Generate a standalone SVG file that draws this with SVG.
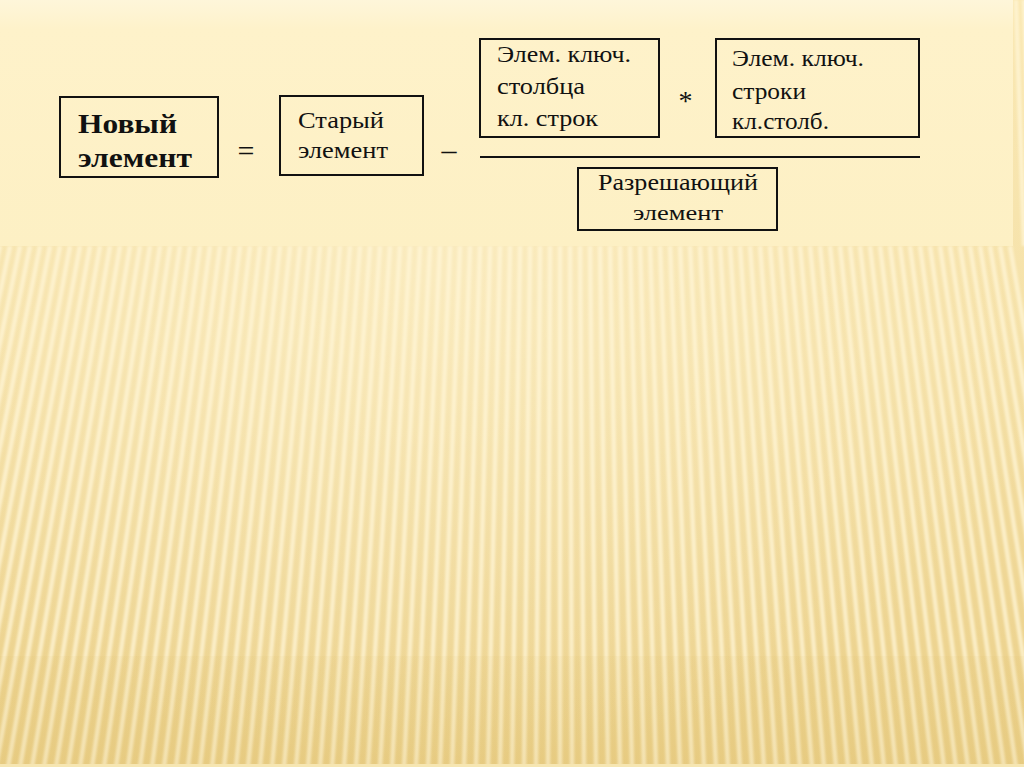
<svg xmlns="http://www.w3.org/2000/svg" width="1024" height="767" viewBox="0 0 1024 767">
<defs>
<style>
.box{fill:none;stroke:#111;stroke-width:2}
.t{font-family:"Liberation Serif","Times New Roman",serif;fill:#111}
.b{font-weight:bold;font-size:28px}
.m{font-size:24px}
.s{font-size:23px}
.x{font-size:21px}
.op{font-family:"Liberation Serif","Times New Roman",serif;fill:#111}
</style>
<linearGradient id="bg" x1="0" y1="0" x2="0" y2="1">
<stop offset="0" stop-color="#FAE8B3"/>
<stop offset="0.45" stop-color="#F5E0A6"/>
<stop offset="1" stop-color="#EACF88"/>
</linearGradient>
<radialGradient id="hl" cx="0.42" cy="0.35" r="0.65">
<stop offset="0" stop-color="#FFF6D8" stop-opacity="0.45"/>
<stop offset="1" stop-color="#FFF6D8" stop-opacity="0"/>
</radialGradient>
<linearGradient id="low" x1="0" y1="0" x2="0" y2="1">
<stop offset="0" stop-color="#D8B760" stop-opacity="0.08"/>
<stop offset="1" stop-color="#D8B760" stop-opacity="0.18"/>
</linearGradient>
<linearGradient id="panel" x1="0" y1="0" x2="0" y2="1">
<stop offset="0" stop-color="#FEF6DA"/>
<stop offset="0.12" stop-color="#FEF2CA"/>
<stop offset="1" stop-color="#FDF0C4"/>
</linearGradient>
<filter id="soft" x="-5%" y="-5%" width="110%" height="110%"><feGaussianBlur stdDeviation="1.2"/></filter>
</defs>

<g id="background">
<rect x="0" y="0" width="1024" height="767" fill="url(#bg)"/>
<rect x="0" y="0" width="1024" height="767" fill="url(#hl)"/>
<path filter="url(#soft)" stroke="#FFF6D6" stroke-opacity="0.75" stroke-width="4.5" fill="none" d="M0 246L-112 767M10 246L-100 767M20 246L-88 767M30 246L-76 767M40 246L-64 767M50 246L-52 767M60 246L-40 767M70 246L-28 767M80 246L-16 767M90 246L-4 767M100 246L8 767M110 246L20 767M120 246L32 767M130 246L44 767M140 246L56 767M150 246L68 767M160 246L80 767M170 246L92 767M180 246L104 767M190 246L116 767M200 246L128 767M210 246L140 767M220 246L152 767M230 246L164 767M240 246L176 767M250 246L188 767M260 246L200 767M270 246L212 767M280 246L224 767M290 246L236 767M300 246L248 767M310 246L260 767M320 246L272 767M330 246L284 767M340 246L296 767M350 246L308 767M360 246L320 767M370 246L332 767M380 246L344 767M390 246L356 767M400 246L368 767M410 246L380 767M420 246L392 767M430 246L404 767M440 246L416 767M450 246L428 767M460 246L440 767M470 246L452 767M480 246L464 767M490 246L476 767M500 246L488 767M510 246L500 767M520 246L512 767M530 246L524 767M540 246L536 767M550 246L548 767M560 246L560 767M570 246L572 767M580 246L584 767M590 246L596 767M600 246L608 767M610 246L620 767M620 246L632 767M630 246L644 767M640 246L656 767M650 246L668 767M660 246L680 767M670 246L692 767M680 246L704 767M690 246L716 767M700 246L728 767M710 246L740 767M720 246L752 767M730 246L764 767M740 246L776 767M750 246L788 767M760 246L800 767M770 246L812 767M780 246L824 767M790 246L836 767M800 246L848 767M810 246L860 767M820 246L872 767M830 246L884 767M840 246L896 767M850 246L908 767M860 246L920 767M870 246L932 767M880 246L944 767M890 246L956 767M900 246L968 767M910 246L980 767M920 246L992 767M930 246L1004 767M940 246L1016 767M950 246L1028 767M960 246L1040 767M970 246L1052 767M980 246L1064 767M990 246L1076 767M1000 246L1088 767M1010 246L1100 767M1016 0L1024 246M1024 0L1032 246"/>
<rect x="0" y="656" width="1024" height="111" fill="url(#low)"/>
<rect x="0" y="764" width="1024" height="3" fill="#F6E6B2"/>
<rect x="0" y="0" width="1013" height="246" fill="url(#panel)"/>
</g>

<g id="node-new">
<rect class="box" x="60" y="97" width="158" height="80"/>
<text class="t b" x="78" y="133" textLength="99" lengthAdjust="spacingAndGlyphs">Новый</text>
<text class="t b" x="78" y="167" textLength="114" lengthAdjust="spacingAndGlyphs">элемент</text>
</g>

<g id="node-old">
<rect class="box" x="280" y="96" width="143" height="79"/>
<text class="t m" x="298" y="127.5" textLength="86" lengthAdjust="spacingAndGlyphs">Старый</text>
<text class="t m" x="298" y="158" textLength="90" lengthAdjust="spacingAndGlyphs">элемент</text>
</g>

<g id="node-col">
<rect class="box" x="480" y="39" width="179" height="98"/>
<text class="t s" x="497" y="61.5" textLength="134" lengthAdjust="spacingAndGlyphs">Элем. ключ.</text>
<text class="t s" x="497" y="93.5" textLength="88" lengthAdjust="spacingAndGlyphs">столбца</text>
<text class="t s" x="497" y="125.5" textLength="101" lengthAdjust="spacingAndGlyphs">кл. строк</text>
</g>

<g id="node-row">
<rect class="box" x="716" y="39" width="203" height="98"/>
<text class="t s" x="732" y="65.5" textLength="132" lengthAdjust="spacingAndGlyphs">Элем. ключ.</text>
<text class="t s" x="732" y="99" textLength="74" lengthAdjust="spacingAndGlyphs">строки</text>
<text class="t s" x="732" y="128.5" textLength="97" lengthAdjust="spacingAndGlyphs">кл.столб.</text>
</g>

<g id="node-pivot">
<rect class="box" x="578" y="168" width="199" height="62"/>
<text class="t m" x="598" y="189.5" textLength="160" lengthAdjust="spacingAndGlyphs">Разрешающий</text>
<text class="t x" x="633" y="220" textLength="90" lengthAdjust="spacingAndGlyphs">элемент</text>
</g>

<g id="connectors">
<line x1="480" y1="157" x2="920" y2="157" stroke="#111" stroke-width="2"/>
<text class="op" x="246" y="161" font-size="30" text-anchor="middle">=</text>
<text class="op" x="449" y="160" font-size="30" text-anchor="middle">–</text>
<text class="op" x="685.5" y="110" font-size="28" text-anchor="middle">*</text>
</g>
</svg>
